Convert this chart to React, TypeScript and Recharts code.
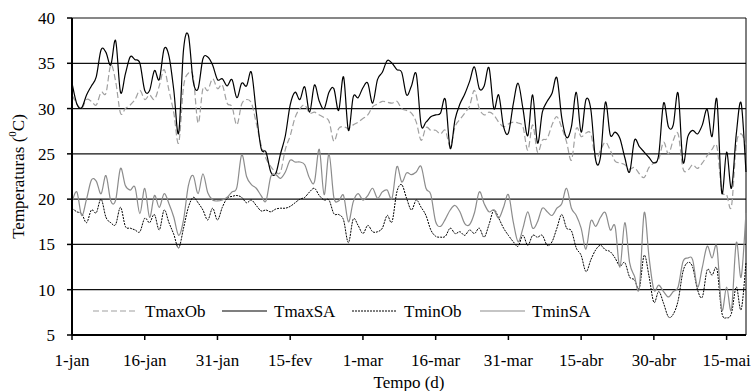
import { CartesianGrid, Label, Line, LineChart, ReferenceLine, XAxis, YAxis } from 'recharts';

const FONT = 'Liberation Serif, Tinos, Times New Roman, Nimbus Roman, serif';

// tick labels every 15 days, day 0 = 1 January (leap year)
const dateLabels = ['1-jan', '16-jan', '31-jan', '15-fev', '1-mar', '16-mar', '31-mar', '15-abr', '30-abr', '15-mai'];
const tickDays = [0, 15, 30, 45, 60, 75, 90, 105, 120, 135];
const yTicks = [5, 10, 15, 20, 25, 30, 35, 40];

const tmaxOb = [
  31.5, 30.5, 30.0, 31.0, 30.8, 30.4, 31.8, 31.7, 34.8, 33.0,
  29.5, 30.0, 30.4, 31.0, 32.0, 31.0, 31.5, 31.0, 32.5, 34.3,
  32.0, 29.5, 26.2, 32.4, 33.9, 33.5, 28.4, 32.2, 32.0, 33.3,
  32.2, 32.6, 30.6, 30.2, 28.2, 30.5, 31.0, 30.6, 28.4, 26.0,
  24.5, 23.6, 23.0, 23.0, 25.5, 27.0, 29.0, 30.0, 30.4, 29.5,
  29.6, 29.3, 29.0, 28.6, 26.4, 27.8, 28.0, 27.8, 28.2, 28.5,
  28.9, 29.3, 30.2, 30.5, 30.8, 30.7, 30.6, 30.8, 30.0, 29.8,
  29.5, 28.5, 26.5, 27.9, 27.6, 27.6, 27.2, 27.6, 25.8, 28.0,
  28.8, 29.5, 30.3, 32.0, 30.0, 29.3, 29.6, 29.3, 28.5, 28.0,
  28.3, 28.5, 28.4, 28.0, 25.4, 28.2, 25.2, 26.5, 26.7, 28.2,
  29.1, 27.9, 26.3, 24.3, 27.8, 26.9, 27.3, 27.2, 24.5, 25.4,
  26.3, 25.4, 24.2, 24.0, 23.8, 23.3, 23.5, 22.8, 22.4, 23.5,
  24.0, 24.4, 26.3, 25.0, 26.5, 27.2, 23.4, 23.2, 23.8, 23.4,
  24.0, 24.8, 25.5, 25.8, 21.0, 20.5, 19.2, 26.0, 27.2, 26.0,
];

const tmaxSA = [
  32.8, 30.5, 30.1, 31.5, 32.5, 33.5, 36.5, 36.2, 34.8, 37.5,
  31.8, 33.8, 35.7, 35.4, 35.0, 32.0, 32.0, 34.2, 33.2, 36.6,
  35.8, 32.0, 27.3, 36.5, 38.1, 33.0, 32.2, 35.5, 35.7, 34.8,
  33.2, 33.3, 32.5, 33.2, 31.2, 32.8, 32.5, 34.0, 29.6, 25.6,
  25.2, 23.0, 22.8, 25.0, 27.0, 30.4, 31.8, 31.0, 32.4, 29.6,
  32.6, 30.8, 30.0, 31.8, 32.2, 29.8, 33.5, 27.6, 31.3, 31.2,
  32.3, 32.8, 30.6, 33.2, 34.0, 35.3, 35.0, 34.3, 34.0, 31.5,
  32.5, 33.8, 28.2, 28.5, 29.1, 29.3, 29.5, 31.0, 25.6, 28.8,
  30.5, 31.6, 33.0, 34.6, 32.2, 32.5, 34.5, 30.0, 31.5, 28.0,
  27.3, 30.5, 32.8, 30.0, 27.0, 31.5, 26.2, 29.6, 30.8, 31.7,
  33.4, 29.0, 26.8, 28.0, 31.8, 27.4, 31.0, 29.9, 24.3, 24.7,
  30.7, 27.1, 27.4, 26.7, 24.6, 23.0, 26.5, 25.8, 25.2, 24.6,
  24.0, 24.9, 30.6, 28.0, 28.2, 31.7, 24.1, 26.9, 27.6, 27.2,
  28.2, 29.9, 26.9, 31.0, 20.7, 25.2, 21.2, 27.2, 30.6, 23.0,
];

const tminOb = [
  19.0, 18.6, 18.4, 17.4, 18.8, 18.5, 20.0, 18.0, 17.4, 17.2,
  19.1, 17.0, 16.8, 16.6, 16.4, 17.9, 17.4, 18.3, 16.6, 18.8,
  17.4, 16.1, 14.6, 16.8, 19.1, 20.2, 19.6, 18.8, 17.7, 19.0,
  17.7, 19.1, 20.1, 20.3, 20.4, 20.2, 19.6, 19.9, 19.3, 18.7,
  18.8, 18.6, 18.9, 19.0, 19.0, 19.2, 19.6, 20.0, 20.2, 20.8,
  21.2, 20.4, 19.9, 19.9, 18.4, 18.3, 17.7, 15.2, 17.8, 17.1,
  16.2, 17.1, 16.4, 16.4, 16.8, 18.2, 17.5, 20.8, 21.6, 20.1,
  18.8, 19.9, 19.1, 18.2, 16.6, 15.9, 15.8, 15.9, 16.8, 16.2,
  16.4, 16.0, 16.6, 16.2, 16.8, 15.8, 17.2, 18.8, 17.9, 16.8,
  16.0, 15.3, 14.8, 16.0, 14.9, 16.0, 15.8, 16.0, 14.9, 15.3,
  16.8, 18.3, 16.8, 16.5, 14.6, 13.8, 12.0, 13.3, 14.4, 14.9,
  14.4, 14.2, 13.5, 12.6, 13.0, 11.4, 11.1, 10.2, 13.8, 11.5,
  8.6, 9.8, 8.5, 7.0, 7.3, 8.8, 12.0, 13.0, 12.5, 10.0,
  9.2, 12.2, 11.6, 12.3, 7.5, 6.9, 7.4, 10.3, 7.8, 13.0,
];

const tminSA = [
  19.7, 20.8, 18.2, 20.0, 22.1, 22.0, 20.6, 22.6, 19.8, 19.9,
  23.4, 21.5, 21.0, 21.3, 18.4, 21.2, 18.0, 20.4, 19.1, 20.6,
  19.5, 18.0, 16.0, 17.7, 21.5, 22.6, 20.6, 22.8, 20.7, 19.9,
  19.8, 19.9, 20.2, 20.8, 21.3, 24.9, 22.5, 21.6, 21.2, 20.4,
  19.8, 22.5, 22.7, 22.3, 23.0, 24.3, 24.1, 24.1, 23.8, 22.3,
  21.9, 25.5, 20.5, 25.0, 20.2, 19.8, 20.4, 17.5, 19.7, 20.6,
  19.9, 20.4, 21.2, 20.1, 20.8, 21.0, 20.1, 23.6, 21.9, 22.9,
  22.7, 23.0, 23.6, 21.2, 20.5, 17.5, 17.0, 17.8, 18.8, 19.3,
  18.6, 17.3, 17.2, 18.5, 20.8, 19.5, 18.6, 18.8, 17.9, 19.1,
  20.5, 17.5, 15.3, 16.8, 18.6, 16.8, 17.5, 19.0, 18.6, 18.2,
  19.0, 19.5, 21.2, 19.0, 18.2, 16.8, 14.5, 17.6, 17.0, 18.0,
  18.5, 16.6, 17.0, 12.5, 17.4, 13.0, 11.5, 10.2, 18.5, 13.6,
  10.0, 10.5, 9.8, 9.2, 9.8, 10.3, 13.1, 13.5, 13.3, 10.3,
  12.5, 14.8, 13.5, 14.7, 7.8, 10.3, 7.8, 15.2, 11.4, 18.5,
];

const data = tmaxOb.map((v, i) => ({
  day: i,
  TmaxOb: v,
  TmaxSA: tmaxSA[i],
  TminOb: tminOb[i],
  TminSA: tminSA[i],
}));

const series = [
  { key: 'TmaxOb', stroke: '#a0a0a0', dash: '6 3', width: 1.2, legendX: 93 },
  { key: 'TmaxSA', stroke: '#000000', dash: undefined, width: 1.2, legendX: 222 },
  { key: 'TminOb', stroke: '#000000', dash: '2 1', width: 1, legendX: 352 },
  { key: 'TminSA', stroke: '#8c8c8c', dash: undefined, width: 1.2, legendX: 480 },
];

// spreadsheet-style smoothing: Catmull-Rom segments through every point
function smoothCurve(context: any) {
  let pts: [number, number][] = [];
  return {
    areaStart() {},
    areaEnd() {},
    lineStart() {
      pts = [];
    },
    point(x: number, y: number) {
      pts.push([+x, +y]);
    },
    lineEnd() {
      if (!pts.length) return;
      context.moveTo(pts[0][0], pts[0][1]);
      for (let i = 0; i < pts.length - 1; i++) {
        const p0 = pts[i - 1] || pts[i];
        const p1 = pts[i];
        const p2 = pts[i + 1];
        const p3 = pts[i + 2] || p2;
        context.bezierCurveTo(
          p1[0] + (p2[0] - p0[0]) / 6,
          p1[1] + (p2[1] - p0[1]) / 6,
          p2[0] - (p3[0] - p1[0]) / 6,
          p2[1] - (p3[1] - p1[1]) / 6,
          p2[0],
          p2[1],
        );
      }
    },
  };
}

function YTitle(props: any) {
  const vb = props.viewBox || {};
  const cy = vb.y !== undefined ? vb.y + vb.height / 2 : 176;
  const x = 18;
  return (
    <text
      x={x}
      y={cy}
      transform={`rotate(-90, ${x}, ${cy})`}
      textAnchor="middle"
      dominantBaseline="central"
      style={{ fontFamily: FONT, fontSize: 17 }}
      fill="#000"
    >
      {'Temperaturas  ('}
      <tspan dy={-6} style={{ fontSize: 11 }}>0</tspan>
      <tspan dy={6}>C)</tspan>
    </text>
  );
}

function XTitle(props: any) {
  const vb = props.viewBox || {};
  const cx = vb.x !== undefined ? vb.x + vb.width / 2 : 409;
  return (
    <text x={cx} y={382} textAnchor="middle" dominantBaseline="central" style={{ fontFamily: FONT, fontSize: 17 }} fill="#000">
      Tempo (d)
    </text>
  );
}

export default function App() {
  const tickStyle = { fill: '#000', fontSize: 17, fontFamily: FONT, style: { fontFamily: FONT } };
  return (
    <div style={{ position: 'absolute', left: 0, top: 0, width: 754, height: 391, background: '#fff', fontFamily: FONT }}>
      <LineChart width={754} height={391} data={data} margin={{ top: 18, right: 8, left: 0, bottom: 0 }}>
        <CartesianGrid horizontal vertical={false} stroke="#111" strokeWidth={1.2} />
        <XAxis
          dataKey="day"
          type="number"
          domain={[0, 139]}
          ticks={tickDays}
          tickFormatter={(d: number) => dateLabels[tickDays.indexOf(d)] ?? ''}
          tick={tickStyle}
          tickSize={5}
          tickMargin={14}
          height={56}
          axisLine={{ stroke: '#000', strokeWidth: 2 }}
          tickLine={{ stroke: '#000', strokeWidth: 1.5 }}
        >
          <Label content={XTitle} />
        </XAxis>
        <YAxis
          type="number"
          domain={[5, 40]}
          ticks={yTicks}
          width={72}
          tick={tickStyle}
          tickSize={5}
          tickMargin={12}
          axisLine={{ stroke: '#000', strokeWidth: 2 }}
          tickLine={{ stroke: '#000', strokeWidth: 1.5 }}
          interval={0}
        >
          <Label content={YTitle} />
        </YAxis>
        <ReferenceLine x={139} stroke="#000" strokeWidth={1} />
        {series.map((s) => (
          <Line
            key={s.key}
            dataKey={s.key}
            type={smoothCurve as any}
            stroke={s.stroke}
            strokeWidth={s.width}
            strokeDasharray={s.dash}
            dot={false}
            activeDot={false}
            isAnimationActive={false}
          />
        ))}
      </LineChart>
      <svg width={754} height={391} style={{ position: 'absolute', left: 0, top: 0, pointerEvents: 'none' }}>
        {series.map((s) => (
          <g key={s.key}>
            <line
              x1={s.legendX}
              x2={s.legendX + 45}
              y1={311}
              y2={311}
              stroke={s.stroke}
              strokeWidth={s.width}
              strokeDasharray={s.dash}
            />
            <text x={s.legendX + 52} y={311} dominantBaseline="central" style={{ fontFamily: FONT, fontSize: 17 }} fill="#000">
              {s.key}
            </text>
          </g>
        ))}
      </svg>
    </div>
  );
}
